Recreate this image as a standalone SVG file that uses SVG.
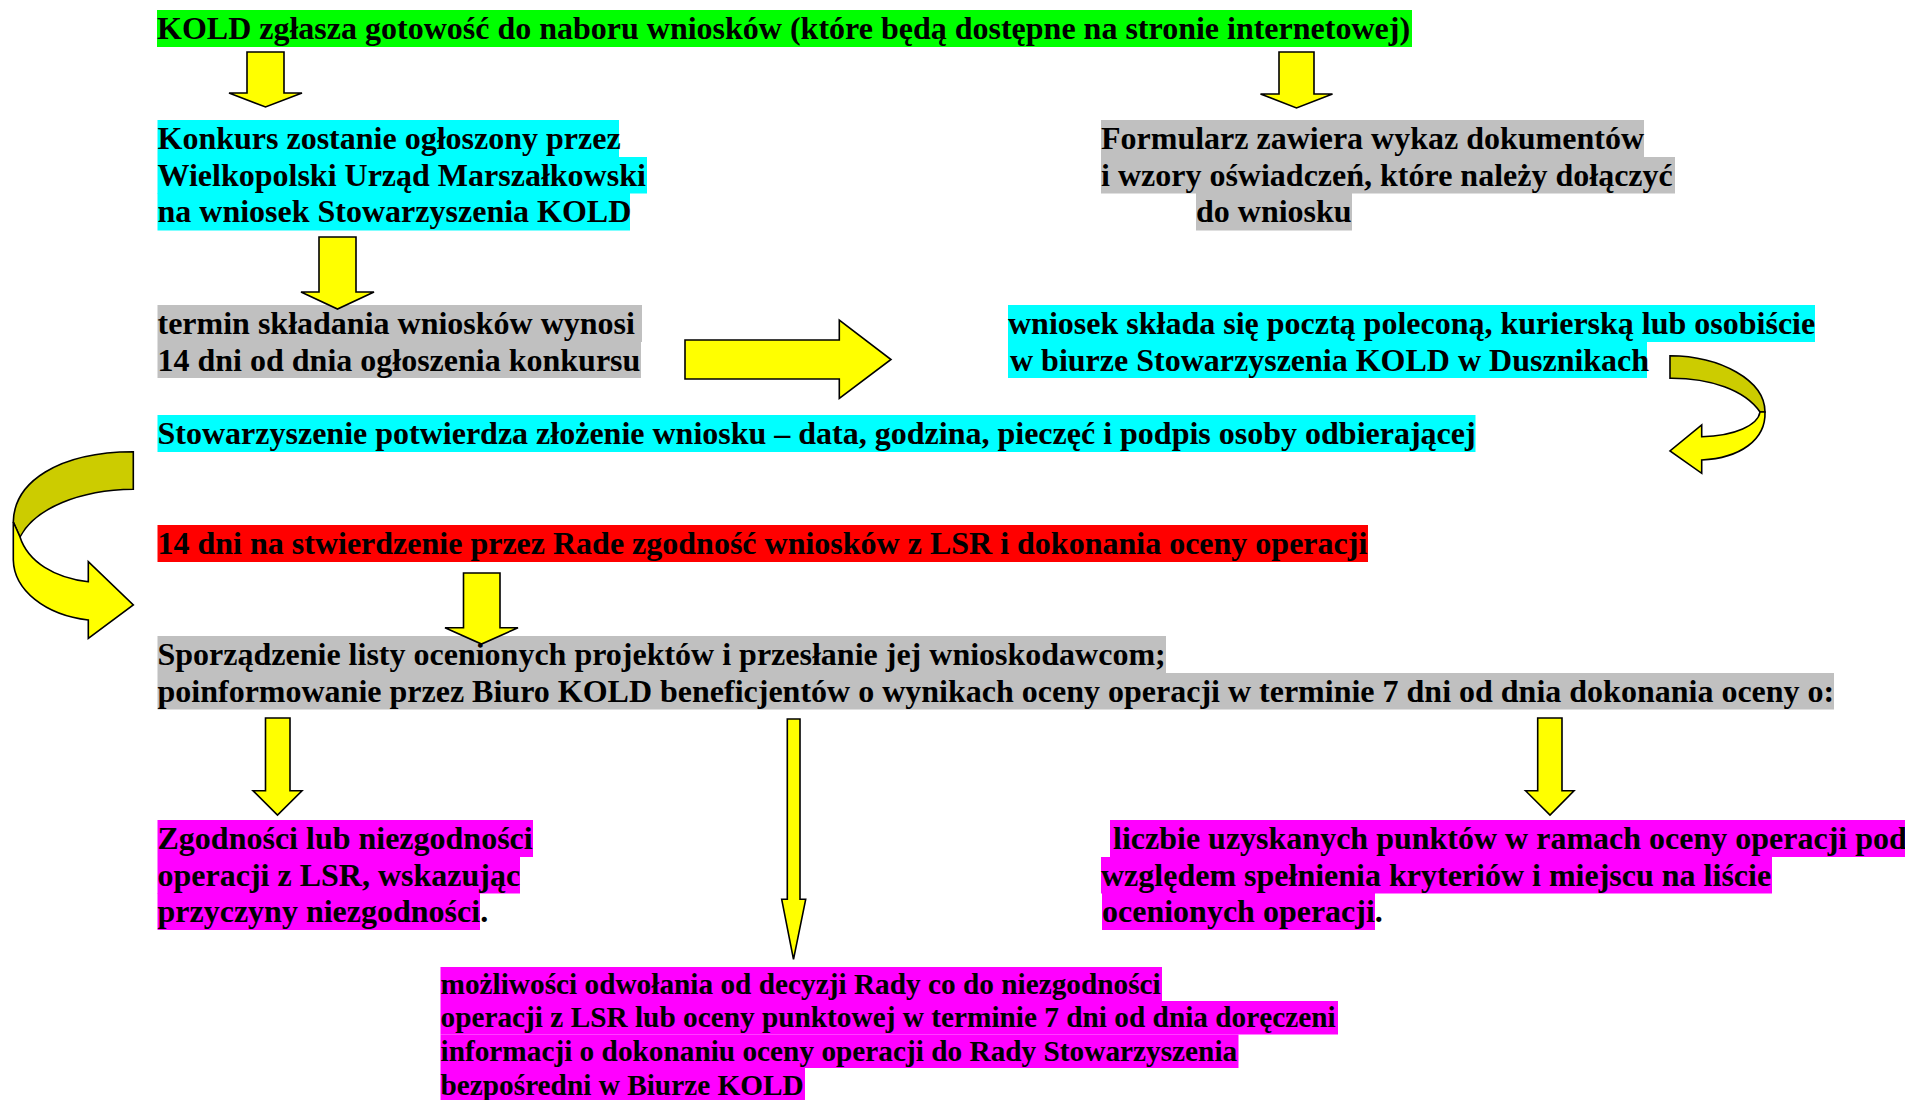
<svg xmlns="http://www.w3.org/2000/svg" width="1905" height="1100" viewBox="0 0 1905 1100">
<style>
text{font-family:"Liberation Serif","Times New Roman",serif;font-weight:bold;font-size:32px;fill:#000}
.s{font-size:29.3px}
.g{fill:#00FF00}.c{fill:#00FFFF}.gr{fill:#C0C0C0}.r{fill:#FF0000}.m{fill:#FF00FF}
.ar{fill:#FFFF00;stroke:#000;stroke-width:1.6;stroke-linejoin:miter}
.ol{fill:#CCCC00;stroke:#000;stroke-width:1.6}
</style>
<rect width="1905" height="1100" fill="#fff"/>
<g id="n-kold">
<rect class="g" x="157" y="10" width="1255" height="37"/>
<text x="157" y="39">KOLD zgłasza gotowość do naboru wniosków (które będą dostępne na stronie internetowej)</text>
</g>
<g id="n-konkurs">
<rect class="c" x="157.5" y="120" width="461.5" height="37"/>
<rect class="c" x="157.5" y="157" width="489.5" height="36.5"/>
<rect class="c" x="157.5" y="193" width="472.5" height="37.5"/>
<text x="157.5" y="149">Konkurs zostanie ogłoszony przez</text>
<text x="157.5" y="186">Wielkopolski Urząd Marszałkowski</text>
<text x="157.5" y="222">na wniosek Stowarzyszenia KOLD</text>
</g>
<g id="n-formularz">
<rect class="gr" x="1101" y="120" width="543" height="37"/>
<rect class="gr" x="1101" y="157" width="574" height="36.5"/>
<rect class="gr" x="1196" y="193" width="156" height="37.5"/>
<text x="1101" y="149">Formularz zawiera wykaz dokumentów</text>
<text x="1101" y="186">i wzory oświadczeń, które należy dołączyć</text>
<text x="1196" y="222">do wniosku</text>
</g>
<g id="n-termin">
<rect class="gr" x="157.5" y="305" width="484.5" height="37"/>
<rect class="gr" x="157.5" y="342" width="483.5" height="36"/>
<text x="157.5" y="334">termin składania wniosków wynosi</text>
<text x="157.5" y="371">14 dni od dnia ogłoszenia konkursu</text>
</g>
<g id="n-wniosek">
<rect class="c" x="1008" y="305" width="807" height="37"/>
<rect class="c" x="1008" y="342" width="639" height="36"/>
<text x="1008" y="334">wniosek składa się pocztą poleconą, kurierską lub osobiście</text>
<text x="1010" y="371">w biurze Stowarzyszenia KOLD w Dusznikach</text>
</g>
<g id="n-potwierdza">
<rect class="c" x="157.5" y="415" width="1318" height="37"/>
<text x="157.5" y="444">Stowarzyszenie potwierdza złożenie wniosku – data, godzina, pieczęć i podpis osoby odbierającej</text>
</g>
<g id="n-rada">
<rect class="r" x="157.5" y="525" width="1210.5" height="37"/>
<text x="157.5" y="554">14 dni na stwierdzenie przez Rade zgodność wniosków z LSR i dokonania oceny operacji</text>
</g>
<g id="n-lista">
<rect class="gr" x="157.5" y="636" width="1008.5" height="37"/>
<rect class="gr" x="157.5" y="673" width="1676.5" height="36.5"/>
<text x="157.5" y="665">Sporządzenie listy ocenionych projektów i przesłanie jej wnioskodawcom;</text>
<text x="157.5" y="702">poinformowanie przez Biuro KOLD beneficjentów o wynikach oceny operacji w terminie 7 dni od dnia dokonania oceny o:</text>
</g>
<g id="n-zgodnosc">
<rect class="m" x="157.5" y="820" width="375.5" height="37"/>
<rect class="m" x="157.5" y="857" width="362.5" height="36.5"/>
<rect class="m" x="157.5" y="893" width="322.5" height="37"/>
<text x="157.5" y="849">Zgodności lub niezgodności</text>
<text x="157.5" y="886">operacji z LSR, wskazując</text>
<text x="157.5" y="922">przyczyny niezgodności.</text>
</g>
<g id="n-punkty">
<rect class="m" x="1110" y="820" width="795" height="37"/>
<rect class="m" x="1101" y="857" width="671" height="36.5"/>
<rect class="m" x="1102" y="893" width="273" height="37"/>
<text x="1113" y="849">liczbie uzyskanych punktów w ramach oceny operacji pod</text>
<text x="1101" y="886">względem spełnienia kryteriów i miejscu na liście</text>
<text x="1102" y="922">ocenionych operacji.</text>
</g>
<g id="n-odwolanie">
<rect class="m" x="440.5" y="967" width="721.5" height="34"/>
<rect class="m" x="440.5" y="1001" width="897.5" height="33.5"/>
<rect class="m" x="440.5" y="1034.5" width="798" height="33.5"/>
<rect class="m" x="440.5" y="1068" width="364.5" height="33"/>
<text class="s" x="440.5" y="993.5">możliwości odwołania od decyzji Rady co do niezgodności</text>
<text class="s" x="440.5" y="1027">operacji z LSR lub oceny punktowej w terminie 7 dni od dnia doręczeni</text>
<text class="s" x="440.5" y="1061">informacji o dokonaniu oceny operacji do Rady Stowarzyszenia</text>
<text class="s" x="440.5" y="1094.5">bezpośredni w Biurze KOLD</text>
</g>
<g id="connectors">
<polygon class="ar" points="247,52 284,52 284,93 302,93 265.5,107 229,93 247,93"/>
<polygon class="ar" points="1279,52 1314,52 1314,94 1332.5,94 1296.5,108 1260.5,94 1279,94"/>
<polygon class="ar" points="319,237 356,237 356,292 374,292 337.5,309 301,292 319,292"/>
<polygon class="ar" points="685,340 839.3,340 839.3,320 891,359.5 839.3,398.3 839.3,379 685,379"/>
<path class="ol" d="M1670,355.7 C1720,356 1765,380 1765,412 L1760,412 C1745,390 1710,378 1670,378.3 Z"/>
<path class="ar" d="M1765,412 C1766,440 1740,458 1701.7,460 L1701.7,473.3 L1670,451 L1701.7,425 L1701.7,436.7 C1735,436 1758,425 1760,412 Z"/>
<path class="ol" d="M133.3,451.7 C58,452 14,482 13.3,522 L20,537 C35,508 80,490 133.3,489.3 Z"/>
<path class="ar" d="M13.3,522 L13.3,560 C14,590 45,615 88.3,620 L88.3,638.3 L133.3,605 L88.3,561.7 L88.3,581.7 C55,578 28,562 20,537 Z"/>
<polygon class="ar" points="463.5,573 500,573 500,627.7 518,627.7 481.5,644 445,627.7 463.5,627.7"/>
<polygon class="ar" points="265.5,718 290,718 290,790.7 302,790.7 277.5,815 253,790.7 265.5,790.7"/>
<polygon class="ar" points="787.3,719 800,719 800,899.3 805.7,899.3 793.5,959.3 781.7,899.3 787.3,899.3"/>
<polygon class="ar" points="1537.7,718 1562,718 1562,790.7 1574,790.7 1550,815 1525.5,790.7 1537.7,790.7"/>
</g>
</svg>
